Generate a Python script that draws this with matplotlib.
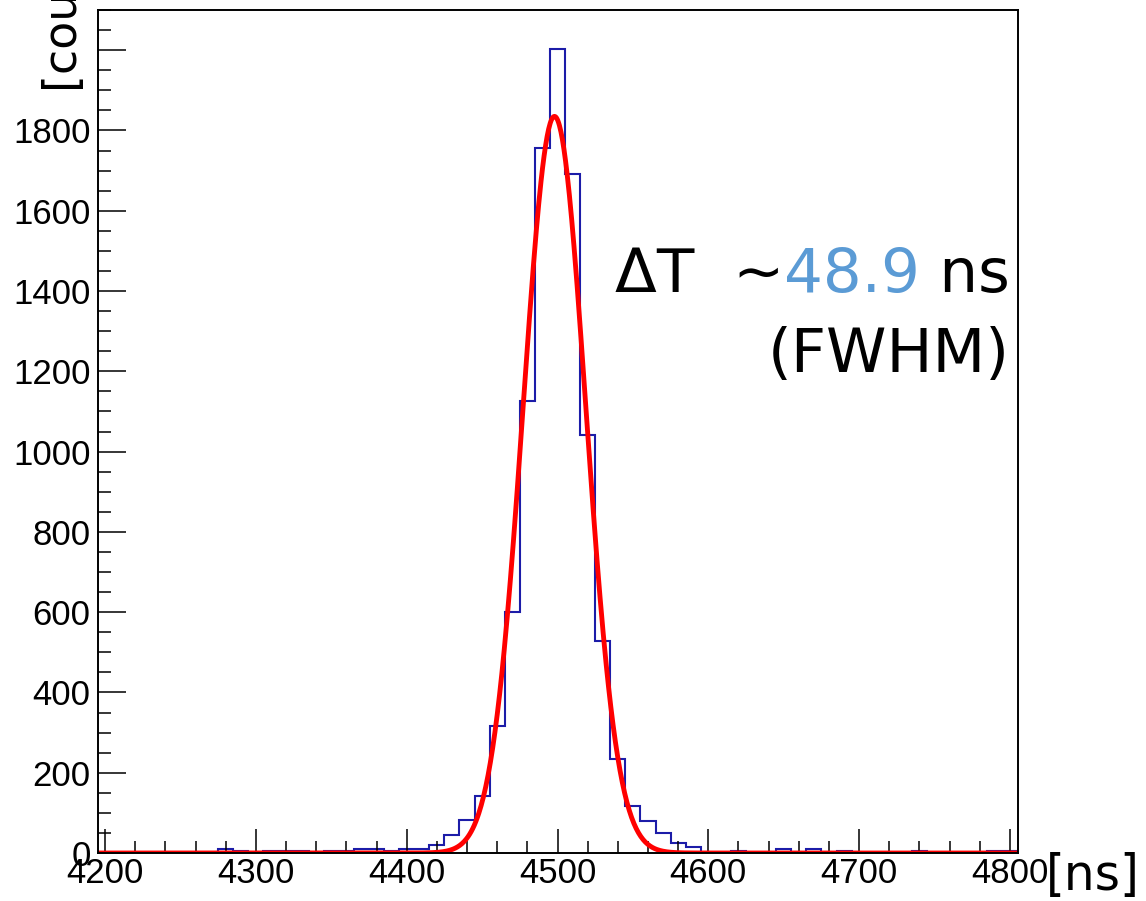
import numpy as np
import matplotlib
matplotlib.use('Agg')
import matplotlib.pyplot as plt
from matplotlib.ticker import MultipleLocator

# histogram: bin centres (ns) and counts
bin_centers = list(range(4200, 4801, 10))
counts = [0, 0, 0, 0, 0, 0, 0, 0,          # 4200-4270
          10, 5, 0, 5, 5, 5, 0, 5, 5,       # 4280-4360
          10, 10, 5, 10, 10, 20, 45, 82,    # 4370-4440
          143, 317, 600, 1127, 1756, 2004,  # 4450-4500
          1691, 1042, 528, 235, 118, 80,    # 4510-4560
          51, 24, 14, 0, 0, 5, 0, 0,        # 4570-4640
          10, 0, 10, 0, 5, 0, 0, 0, 0,      # 4650-4730
          5, 0, 0, 0, 0, 5, 5]              # 4740-4800
bin_width = 10

# gaussian fit parameters
fit_mean = 4498.0
fit_fwhm = 48.9
fit_amp = 1835.0

W, H = 1146, 901
fig = plt.figure(figsize=(W / 100, H / 100), dpi=100)
ax = fig.add_axes([97.5 / W, 1 - 853 / H, 920 / W, 843 / H])

edges = np.append(np.array(bin_centers) - bin_width / 2, bin_centers[-1] + bin_width / 2)
ax.stairs(counts, edges, color='#1c1ca8', lw=1.5, baseline=0)

sigma = fit_fwhm / (2 * np.sqrt(2 * np.log(2)))
xf = np.linspace(edges[0], edges[-1], 1200)
ax.plot(xf, fit_amp * np.exp(-0.5 * ((xf - fit_mean) / sigma) ** 2), color='red', lw=3.5)

ax.set_xlim(edges[0], edges[-1])
ax.set_ylim(0, 2100)
ax.set_xticks(range(4200, 4801, 100))
ax.xaxis.set_minor_locator(MultipleLocator(20))
ax.set_yticks(range(0, 2001, 200))
ax.yaxis.set_minor_locator(MultipleLocator(50))
ax.set_yticklabels([str(v) if v < 2000 else '' for v in range(0, 2001, 200)])

ax.tick_params(which='both', direction='in', top=False, right=False, width=1.1,
               labelsize=25, labelfontfamily='Liberation Sans')
ax.tick_params(axis='x', which='major', length=17, pad=3)
ax.tick_params(axis='x', which='minor', length=8.5)
ax.tick_params(axis='y', which='major', length=20, pad=5)
ax.tick_params(axis='y', which='minor', length=9.5)
for s in ax.spines.values():
    s.set_linewidth(1.4)

# axis titles
fig.text(60 / W, 1 - 88 / H, '[counts]', rotation=90, ha='center', va='bottom',
         fontsize=33, family='DejaVu Sans')
fig.text(1140 / W, 1 - 876 / H, '[ns]', ha='right', va='center',
         fontsize=35, family='DejaVu Sans')

# annotation, built right to left
fig.canvas.draw()
r = fig.canvas.get_renderer()
x_right = 1010
y_base = 1 - 292 / H
pieces = [(' ns', 'black'), ('48.9', '#5b9bd5'), ('ΔT  ~', 'black')]
for txt, col in pieces:
    t = fig.text(x_right / W, y_base, txt, ha='right', va='baseline',
                 fontsize=44, color=col, family='DejaVu Sans')
    bb = t.get_window_extent(r)
    x_right = bb.x0
fig.text(1010 / W, 1 - 372 / H, '(FWHM)', ha='right', va='baseline',
         fontsize=44, family='DejaVu Sans')

fig.savefig('out.png', dpi=100)
